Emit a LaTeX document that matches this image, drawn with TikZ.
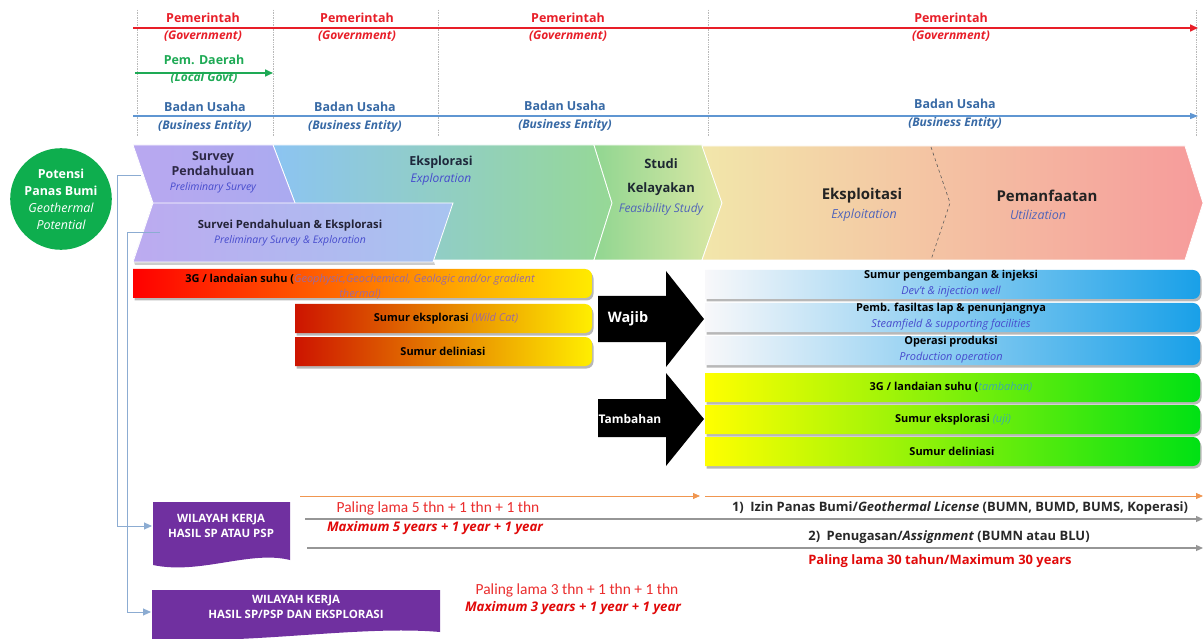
\documentclass[tikz,border=0pt]{standalone}
\usepackage{fontspec}
\setmainfont{Open Sans}
\newfontfamily\calfont{Carlito}
\usetikzlibrary{arrows.meta}
\definecolor{gov}{RGB}{232,30,40}
\definecolor{loc}{RGB}{30,170,85}
\definecolor{biz}{RGB}{55,105,165}
\definecolor{bizline}{RGB}{95,150,210}
\definecolor{pgreen}{RGB}{14,174,78}
\definecolor{wk}{RGB}{112,48,160}
\definecolor{conn}{RGB}{140,172,210}
\definecolor{engblue}{RGB}{70,75,205}
\definecolor{engsub}{RGB}{80,100,185}
\definecolor{violetgrey}{RGB}{155,105,160}
\definecolor{teal2}{RGB}{60,170,170}
\definecolor{redtxt}{RGB}{235,45,45}
\definecolor{redbold}{RGB}{225,10,10}
\definecolor{orangeline}{RGB}{240,150,80}
\definecolor{greyline}{RGB}{150,150,150}
\newcommand\rbar[6]{%
  \fill[black,opacity=0.28] (#1+1.5,#2+2.5) -- (#3-7+1.5,#2+2.5) arc[start angle=-90,end angle=0,radius=7] -- (#3+1.5,#4-7+2.5) arc[start angle=0,end angle=90,radius=7] -- (#1+1.5,#4+2.5) -- cycle;
  \shade[left color=#5,right color=#6] (#1,#2) -- (#3-7,#2) arc[start angle=-90,end angle=0,radius=7] -- (#3,#4-7) arc[start angle=0,end angle=90,radius=7] -- (#1,#4) -- cycle;}
\tikzset{
  lbl/.style={font=\fontsize{12.5}{14}\selectfont\bfseries, inner sep=0pt},
  lbli/.style={font=\fontsize{12}{14}\selectfont\bfseries\itshape, inner sep=0pt},
  chev/.style={draw=white, line width=0.8},
  bartxt/.style={font=\fontsize{11}{16}\selectfont\bfseries, align=center, inner sep=0pt},
  vline/.style={draw=gray!55, line width=0.7, densely dotted},
  conline/.style={draw=conn, line width=0.9},
  wkbox/.style={fill=wk},
  wktxt/.style={font=\fontsize{11.5}{15}\selectfont\bfseries, text=white, align=center, inner sep=0pt},
}
\begin{document}
\begin{tikzpicture}[x=1bp,y=-1bp]
\useasboundingbox (0,0) rectangle (1203,639);
\fill[white] (0,0) rectangle (1203,639);

% ---------- top: actors ----------
\foreach \xx in {137,273,438,708,1196} \draw[vline] (\xx,10) -- (\xx,137);
\coordinate (rs) at (133,28); \coordinate (re) at (1198,28);
\draw[gov, line width=1.6, -{Triangle[length=8,width=7]}] (rs) -- (re);
\coordinate (gs) at (135,73); \coordinate (ge) at (273,73);
\draw[loc, line width=1.6, -{Triangle[length=8,width=7]}] (gs) -- (ge);
\coordinate (bs) at (133,116); \coordinate (be) at (1198,116);
\draw[bizline, line width=1.2, -{Triangle[length=8,width=6]}] (bs) -- (be);

\foreach \xx/\nm in {203/a,357/b,568/c,951/d}{
  \node[lbl, text=gov] (gov\nm) at (\xx,18) {Pemerintah};
  \node[lbli, text=gov] (gove\nm) at (\xx,36) {(Government)};
}
\node[lbl, text=loc] (locd) at (204,60) {Pem. Daerah};
\node[lbli, text=loc] (loce) at (204,78) {(Local Govt)};
\foreach \xx/\yy/\nm in {205/107/a,355/107/b,565/106/c,955/104/d}{
  \node[lbl, text=biz] (biz\nm) at (\xx,\yy) {Badan Usaha};
  \node[lbli, text=biz] (bize\nm) at (\xx,\yy+19) {(Business Entity)};
}

% ---------- chevrons ----------
\shade[chev, left color={rgb,255:red,140;green,196;blue,242}, right color={rgb,255:red,150;green,216;blue,150}]
  (273,145) -- (594,145) -- (612,203) -- (594,260) -- (273,260) -- (295,203) -- cycle;
\shade[chev, left color={rgb,255:red,185;green,168;blue,240}, right color={rgb,255:red,170;green,170;blue,240}]
  (133,145) -- (273,145) -- (295,203) -- (273,260) -- (133,260) -- (153,203) -- cycle;
\shade[chev, left color={rgb,255:red,145;green,214;blue,145}, right color={rgb,255:red,220;green,232;blue,165}]
  (594,145) -- (702,145) -- (722,203) -- (702,260) -- (594,260) -- (612,203) -- cycle;
\shade[chev, left color={rgb,255:red,242;green,230;blue,170}, middle color={rgb,255:red,248;green,200;blue,160}, right color={rgb,255:red,246;green,155;blue,155}]
  (702,146) -- (1185,146) -- (1203,203) -- (1185,260) -- (702,260) -- (722,203) -- cycle;
\draw[gray!70!black, dashed, line width=0.6] (931,147) -- (950,203) -- (931,260);
\fill[black, opacity=0.2] (134,262) -- (434,262) -- (435,265) -- (135,265) -- cycle;
\shade[chev, left color={rgb,255:red,188;green,170;blue,240}, right color={rgb,255:red,168;green,196;blue,240}]
  (153,203) -- (453,203) -- (433,262) -- (133,262) -- cycle;

\node[font=\fontsize{12.5}{15}\selectfont\bfseries, text={rgb,255:red,45;green,40;blue,70}, align=center, inner sep=0pt] (sp) at (213,164) {Survey\\Pendahuluan};
\node[font=\fontsize{10.5}{12}\selectfont\itshape, text=engblue, inner sep=0pt] (spe) at (213,188) {Preliminary Survey};
\node[font=\fontsize{12.5}{14}\selectfont\bfseries, text={rgb,255:red,30;green,40;blue,60}, inner sep=0pt] (ek) at (441,162) {Eksplorasi};
\node[font=\fontsize{12}{14}\selectfont\itshape, text=engblue, inner sep=0pt] (eke) at (441,179) {Exploration};
\node[font=\fontsize{11.3}{13}\selectfont\bfseries, text={rgb,255:red,35;green,35;blue,55}, inner sep=0pt] (spx) at (290,226) {Survei Pendahuluan \& Eksplorasi};
\node[font=\fontsize{10.5}{12}\selectfont\itshape, text=engblue, inner sep=0pt] (spxe) at (290,241) {Preliminary Survey \& Exploration};
\node[font=\fontsize{13}{24}\selectfont\bfseries, text={rgb,255:red,30;green,40;blue,50}, align=center, inner sep=0pt] (sk) at (661,177) {Studi\\Kelayakan};
\node[font=\fontsize{12}{14}\selectfont\itshape, text=engsub, inner sep=0pt] (ske) at (661,209) {Feasibility Study};
\node[font=\fontsize{15}{17}\selectfont\bfseries, text={rgb,255:red,35;green,35;blue,35}, inner sep=0pt] (ex) at (862,196) {Eksploitasi};
\node[font=\fontsize{12.5}{14}\selectfont\itshape, text=engsub, inner sep=0pt] (exe) at (864,215) {Exploitation};
\node[font=\fontsize{15}{17}\selectfont\bfseries, text={rgb,255:red,35;green,35;blue,35}, inner sep=0pt] (pm) at (1047,196) {Pemanfaatan};
\node[font=\fontsize{12.5}{14}\selectfont\itshape, text=engsub, inner sep=0pt] (pme) at (1038,215) {Utilization};

% ---------- potential circle ----------
\node[circle, fill=pgreen, minimum size=102, inner sep=0pt, text=white, align=center, font=\fontsize{12.5}{17}\selectfont] (pot) at (61,199)
  {\bfseries Potensi\\\bfseries Panas Bumi\\\itshape Geothermal\\\itshape Potential};

% ---------- exploration bars ----------
\rbar{133}{269}{592}{298}{{rgb,255:red,255;green,0;blue,0}}{{rgb,255:red,255;green,235;blue,0}}
\rbar{295}{304}{592}{333}{{rgb,255:red,205;green,20;blue,0}}{{rgb,255:red,255;green,238;blue,0}}
\rbar{295}{337}{592}{366}{{rgb,255:red,205;green,20;blue,0}}{{rgb,255:red,255;green,238;blue,0}}
\node[bartxt, font=\fontsize{11}{15}\selectfont] (g3a) at (360,287) {\bfseries 3G / landaian suhu (\mdseries\itshape\textcolor{violetgrey}{Geophysic,Geochemical, Geologic and/or gradient}\\\mdseries\itshape\textcolor{violetgrey}{thermal)}};
\node[bartxt] (swc) at (446,319) {Sumur eksplorasi \textcolor{violetgrey}{\mdseries\itshape(Wild Cat)}};
\node[bartxt] (sdl) at (443,351) {Sumur deliniasi};

% ---------- big arrows ----------
\fill[black] (598,296) -- (666,296) -- (666,271) -- (704,319) -- (666,367) -- (666,342) -- (598,342) -- cycle;
\node[font=\fontsize{14.5}{16}\selectfont\bfseries, text=white, inner sep=0pt] (wajib) at (628,319) {Wajib};
\fill[black] (598,399) -- (666,399) -- (666,373) -- (704,419) -- (666,466) -- (666,437) -- (598,437) -- cycle;
\node[font=\fontsize{12}{14}\selectfont\bfseries, text=white, inner sep=0pt] (tamb) at (630,419) {Tambahan};

% ---------- exploitation bars ----------
\rbar{705}{270}{1200}{299}{{rgb,255:red,248;green,248;blue,250}}{{rgb,255:red,25;green,160;blue,232}}
\rbar{705}{303}{1200}{332}{{rgb,255:red,248;green,248;blue,250}}{{rgb,255:red,25;green,160;blue,232}}
\rbar{705}{336}{1200}{365}{{rgb,255:red,248;green,248;blue,250}}{{rgb,255:red,25;green,160;blue,232}}
\node[bartxt] (w1) at (951,284) {Sumur pengembangan \& injeksi\\\mdseries\itshape\textcolor{engblue}{Dev't \& injection well}};
\node[bartxt] (w2) at (951,317) {Pemb. fasiltas lap \& penunjangnya\\\mdseries\itshape\textcolor{engblue}{Steamfield \& supporting facilities}};
\node[bartxt] (w3) at (951,350) {Operasi produksi\\\mdseries\itshape\textcolor{engblue}{Production operation}};
\rbar{705}{373}{1200}{402}{{rgb,255:red,255;green,255;blue,0}}{{rgb,255:red,0;green,225;blue,20}}
\rbar{705}{405}{1200}{434}{{rgb,255:red,255;green,255;blue,0}}{{rgb,255:red,0;green,225;blue,20}}
\rbar{705}{437}{1200}{466}{{rgb,255:red,255;green,255;blue,0}}{{rgb,255:red,0;green,225;blue,20}}
\node[bartxt] (t1) at (951,387) {3G / landaian suhu (\mdseries\itshape\textcolor{teal2}{tambahan)}};
\node[bartxt] (t2) at (953,420) {Sumur eksplorasi \mdseries\itshape\textcolor{teal2}{(uji)}};
\node[bartxt] (t3) at (952,451) {Sumur deliniasi};

% ---------- working area boxes ----------
\fill[wkbox] (153,502) -- (290,502) -- (290,560) .. controls (250,550) and (200,575) .. (153,565) -- cycle;
\node[wktxt] (wk1) at (221,526) {WILAYAH KERJA\\HASIL SP ATAU PSP};
\fill[wkbox] (152,590) -- (440,590) -- (440,632) .. controls (360,625) and (250,645) .. (152,639) -- cycle;
\node[wktxt] (wk2) at (296,607) {WILAYAH KERJA\\HASIL SP/PSP DAN EKSPLORASI};

% connectors from the phases to the boxes
\coordinate (c1) at (141,175);
\coordinate (c1b) at (152,526);
\draw[conline, -{Triangle[length=8,width=7]}] (c1) -- (117,175) |- (c1b);
\coordinate (c2) at (160,232);
\coordinate (c2b) at (151,612);
\draw[conline, -{Triangle[length=8,width=7]}] (c2) -- (127,232) |- (c2b);

% ---------- time lines ----------
\coordinate (o1) at (300,496); \coordinate (o2) at (700,496);
\coordinate (o3) at (705,496); \coordinate (o4) at (1203,496);
\draw[orangeline, line width=0.8, -{Triangle[length=7,width=6]}] (o1) -- (o2);
\draw[orangeline, line width=0.8, -{Triangle[length=7,width=6]}] (o3) -- (o4);
\coordinate (l1) at (305,519); \coordinate (l2) at (1203,519);
\draw[greyline, line width=1.2, -{Triangle[length=7,width=6]}] (l1) -- (l2);
\coordinate (m1) at (307,548); \coordinate (m2) at (1203,548);
\draw[greyline, line width=1.2, -{Triangle[length=7,width=6]}] (m1) -- (m2);

\node[font=\calfont\fontsize{15.5}{17}\selectfont, text=redtxt, inner sep=0pt] (pl5) at (438,508) {Paling lama 5 thn + 1 thn + 1 thn};
\node[font=\fontsize{13.3}{15}\selectfont\bfseries\itshape, text=redbold, inner sep=0pt] (mx5) at (435,528) {Maximum 5 years + 1 year + 1 year};
\node[font=\fontsize{13}{15}\selectfont\bfseries, text={rgb,255:red,40;green,40;blue,40}, inner sep=0pt] (iz) at (960,508) {1)\enspace Izin Panas Bumi/\textit{Geothermal License} (BUMN, BUMD, BUMS, Koperasi)};
\node[font=\fontsize{13}{15}\selectfont\bfseries, text={rgb,255:red,40;green,40;blue,40}, inner sep=0pt] (pg) at (949,537) {2)\enspace Penugasan/\textit{Assignment} (BUMN atau BLU)};
\node[font=\fontsize{13}{15}\selectfont\bfseries, text=redbold, inner sep=0pt] (p30) at (940,561) {Paling lama 30 tahun/Maximum 30 years};
\node[font=\calfont\fontsize{15.5}{17}\selectfont, text=redtxt, inner sep=0pt] (pl3) at (577,590) {Paling lama 3 thn + 1 thn + 1 thn};
\node[font=\fontsize{13.3}{15}\selectfont\bfseries\itshape, text=redbold, inner sep=0pt] (mx3) at (573,608) {Maximum 3 years + 1 year + 1 year};
\end{tikzpicture}
\end{document}
